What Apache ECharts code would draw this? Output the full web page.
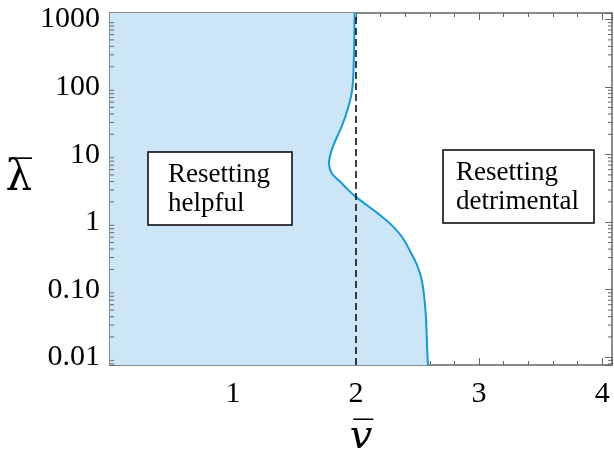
<!DOCTYPE html>
<html>
<head>
<meta charset="utf-8">
<style>
html,body{margin:0;padding:0;background:#fff;}
#c{width:614px;height:453px;}
</style>
<script src="https://cdn.jsdelivr.net/npm/echarts@6/dist/echarts.min.js"></script>
</head>
<body>
<div id="c"></div>
<script>
// ---- data ----
const curveLambda = [1250, 449, 143.5, 81.5, 46.1, 26.1, 14.8, 10.5, 7.48, 5.32, 3.78, 3.01, 2.39, 1.80, 1.28, 0.912, 0.579, 0.366, 0.233, 0.148, 0.0938, 0.0474, 0.0239, 0.0121, 0.00769];
const curveV = [1.988, 1.985, 1.977, 1.964, 1.931, 1.883, 1.823, 1.794, 1.780, 1.802, 1.883, 1.936, 1.996, 2.085, 2.193, 2.287, 2.381, 2.441, 2.495, 2.530, 2.549, 2.565, 2.573, 2.579, 2.584];
const thresholdV = 2;
const xTickLabels = ['1', '2', '3', '4'];
const yTickLabels = {'-2': '0.01', '-1': '0.10', '0': '1', '1': '10', '2': '100', '3': '1000'};
const boxHelpful = 'Resetting\nhelpful';
const boxDetrimental = 'Resetting\ndetrimental';

const X_MIN = 0, X_MAX = 4.08, Y_MIN = 0.00769, Y_MAX = 1250;
const SERIF = '"Liberation Serif", "DejaVu Serif", serif';
const FRAME = '#666';

// y minor tick values (2..9 x 10^k) within range
const yMinor = [];
for (let k = -3; k <= 3; k++) {
  for (let m = 2; m <= 9; m++) {
    const v = m * Math.pow(10, k);
    if (v > Y_MIN && v < Y_MAX) yMinor.push(v);
  }
}

const curveData = curveV.map((v, i) => [v, curveLambda[i]]);

const chart = echarts.init(document.getElementById('c'), null, {renderer: 'canvas'});

const xLabelFmt = function (v) {
  const s = String(Math.round(v));
  return (Math.abs(v - Math.round(v)) < 1e-9 && xTickLabels.indexOf(s) >= 0) ? s : '';
};
const yLabelFmt = function (v) {
  const l = Math.log10(v);
  const r = Math.round(l);
  if (Math.abs(l - r) < 1e-6 && yTickLabels[String(r)] !== undefined) return yTickLabels[String(r)];
  return '';
};

const xCommon = {
  type: 'value', min: X_MIN, max: X_MAX, interval: 1,
  axisLine: {show: true, onZero: false, lineStyle: {color: FRAME, width: 1.5}},
  axisTick: {show: true, inside: true, length: 7, lineStyle: {color: FRAME, width: 1}},
  minorTick: {show: true, splitNumber: 5, length: 4, lineStyle: {color: FRAME, width: 1}},
  splitLine: {show: false}, minorSplitLine: {show: false}
};
const yCommon = {
  type: 'log', min: Y_MIN, max: Y_MAX, logBase: 10,
  axisLine: {show: true, onZero: false, lineStyle: {color: FRAME, width: 1.5}},
  axisTick: {show: true, inside: true, length: 7, lineStyle: {color: FRAME, width: 1}},
  minorTick: {show: false},
  splitLine: {show: false}, minorSplitLine: {show: false}
};

chart.setOption({
  animation: false,
  backgroundColor: '#fff',
  grid: {left: 110, right: 2, top: 13, bottom: 88, containLabel: false, outerBoundsMode: 'none'},
  xAxis: [
    Object.assign({}, xCommon, {
      position: 'bottom',
      axisLabel: {show: true, formatter: xLabelFmt, color: '#000', fontFamily: SERIF, fontSize: 30, margin: 14},
      name: 'v\u0305', nameLocation: 'middle', nameGap: 53,
      nameTextStyle: {color: '#000', fontFamily: '"DejaVu Serif", serif', fontSize: 40, fontStyle: 'italic'}
    }),
    Object.assign({}, xCommon, {position: 'top', axisLabel: {show: false}})
  ],
  yAxis: [
    Object.assign({}, yCommon, {
      position: 'left',
      axisLabel: {show: true, formatter: yLabelFmt, color: '#000', fontFamily: SERIF, fontSize: 30, margin: 10},
      name: '\u03bb\u0305', nameLocation: 'middle', nameRotate: 0, nameGap: 78,
      nameTextStyle: {color: '#000', fontFamily: '"DejaVu Serif", serif', fontSize: 42, verticalAlign: 'bottom', lineHeight: 20}
    }),
    Object.assign({}, yCommon, {position: 'right', axisLabel: {show: false}})
  ],
  series: [
    {
      type: 'custom', name: 'fill', xAxisIndex: 0, yAxisIndex: 0, z: 1, silent: true,
      data: curveData,
      renderItem: function (params, api) {
        if (params.dataIndex !== 0) return null;
        const pts = curveData.map(d => api.coord(d));
        pts.push(api.coord([X_MIN, Y_MIN]));
        pts.push(api.coord([X_MIN, Y_MAX]));
        return {type: 'polygon', shape: {points: pts}, style: {fill: '#cce6f8', stroke: null}};
      }
    },
    {
      type: 'custom', name: 'yminor', xAxisIndex: 0, yAxisIndex: 0, z: 5, silent: true,
      data: yMinor.map(v => [X_MIN, v]),
      renderItem: function (params, api) {
        const v = api.value(1);
        const a = api.coord([X_MIN, v]);
        const b = api.coord([X_MAX, v]);
        return {type: 'group', children: [
          {type: 'line', shape: {x1: a[0], y1: a[1], x2: a[0] + 4, y2: a[1]}, style: {stroke: FRAME, lineWidth: 1}},
          {type: 'line', shape: {x1: b[0], y1: b[1], x2: b[0] - 4, y2: b[1]}, style: {stroke: FRAME, lineWidth: 1}}
        ]};
      }
    },
    {
      type: 'line', name: 'curve', xAxisIndex: 0, yAxisIndex: 0, z: 3,
      data: curveData, smooth: 0.3, showSymbol: false, symbol: 'none',
      lineStyle: {color: '#1199e0', width: 2},
      markLine: {
        silent: true, symbol: 'none', label: {show: false},
        lineStyle: {color: '#000', type: [7, 4], width: 1.5},
        data: [{xAxis: thresholdV}]
      }
    }
  ],
  graphic: [
    {type: 'rect', z: 100, shape: {x: 148, y: 152, width: 144, height: 73}, style: {fill: '#fff', stroke: '#000', lineWidth: 1.5}},
    {type: 'text', z: 101, x: 168, y: 160, style: {text: boxHelpful, font: '27px ' + SERIF, fill: '#000', lineHeight: 29}},
    {type: 'rect', z: 100, shape: {x: 443, y: 150, width: 151, height: 73}, style: {fill: '#fff', stroke: '#000', lineWidth: 1.5}},
    {type: 'text', z: 101, x: 456, y: 158, style: {text: boxDetrimental, font: '27px ' + SERIF, fill: '#000', lineHeight: 29}}
  ]
});
</script>
</body>
</html>
